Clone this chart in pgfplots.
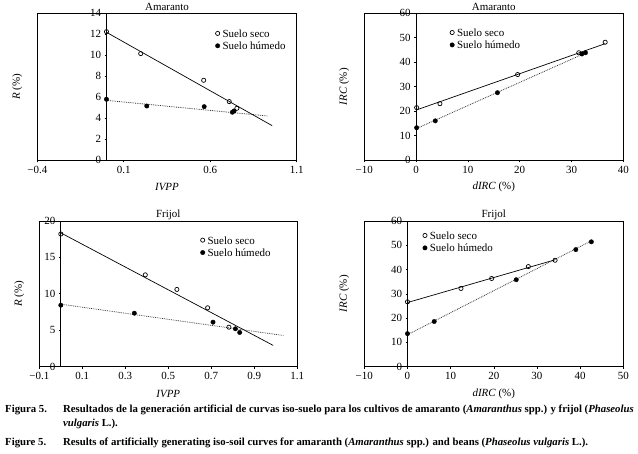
\documentclass[border=0pt]{standalone}
\usepackage{fontspec}
\setmainfont{Liberation Serif}
\usepackage{pgfplots}
\pgfplotsset{compat=1.18}
\pgfplotsset{
  mainax/.style={
    scale only axis, anchor=south west,
    axis line style={line width=0.8bp},
    tick align=outside, major tick length=2bp,
    tick style={black, line width=0.6bp},
    xtick pos=bottom, ytick=\empty,
    ymin=0, clip=false,
    font=\fontsize{11}{13}\selectfont,
    every axis title/.style={at={(0.5,1)}, anchor=base, yshift=3bp, font=\fontsize{11}{13}\selectfont},
    every axis x label/.style={at={(rel axis cs:0.5,0)}, anchor=center, yshift=-27bp, font=\fontsize{11}{13}\selectfont},
    every axis y label/.style={at={(rel axis cs:0,0.5)}, xshift=-20bp, rotate=90, anchor=center, font=\fontsize{11}{13}\selectfont},
    legend style={draw=none, fill=none, anchor=north west, font=\fontsize{11}{13}\selectfont,
      row sep=3.4bp, column sep=2.7bp, inner sep=0pt,
      nodes={inner sep=0pt, text height=7bp, text depth=2bp}},
    legend cell align=left,
  },
  yax/.style={
    scale only axis, anchor=south west,
    axis x line=none, axis y line*=left,
    axis line style={line width=0.8bp},
    tick align=outside, major tick length=2bp,
    tick style={black, line width=0.6bp},
    xmin=0, xmax=1, ymin=0,
    font=\fontsize{11}{13}\selectfont,
    yticklabel style={/pgf/number format/assume math mode=true},
  },
  seco/.style={only marks, mark=o, mark size=2.1bp, mark options={line width=0.7bp, fill=white, draw=black},
    legend image code/.code={\draw[mark repeat=2,mark phase=2,##1] plot coordinates {(0bp,1.5bp) (3bp,1.5bp) (6bp,1.5bp)};}},
  humedo/.style={only marks, mark=*, mark size=2.2bp, mark options={fill=black, draw=black},
    legend image code/.code={\draw[mark repeat=2,mark phase=2,##1] plot coordinates {(0bp,1.5bp) (3bp,1.5bp) (6bp,1.5bp)};}},
  fitseco/.style={no marks, black, line width=0.7bp, forget plot},
  fithum/.style={no marks, black!80, line width=0.8bp, densely dotted, forget plot},
}
\begin{document}
\begin{tikzpicture}
\useasboundingbox (0,0) rectangle (638bp,454bp);
% ---------------- Panel 1: Amaranto R vs IVPP
\begin{axis}[mainax, at={(37.3bp,293.7bp)}, width=259.4bp, height=147bp,
  xmin=-0.4, xmax=1.1, ymax=14,
  xtick={-0.4,0.1,0.6,1.1}, xticklabels={−0.4,0.1,0.6,1.1},
  title={Amaranto}, xlabel={\textit{IVPP}}, ylabel={\textit{R} (\%)},
  legend style={at={(axis description cs:0.686,0.885)}}]
\addplot[fitseco] coordinates {(0,12.19) (0.958,3.3)};
\addplot[fithum] coordinates {(0,5.71) (0.932,4.22)};
\addplot[seco] coordinates {(0.0,12.25) (0.198,10.16) (0.562,7.62) (0.710,5.59) (0.754,4.95)};
\addplot[humedo] coordinates {(0.0,5.81) (0.233,5.17) (0.565,5.11) (0.728,4.58) (0.738,4.70)};
\legend{Suelo seco, Suelo húmedo}
\draw[line width=0.8bp] (rel axis cs:0,0) rectangle (rel axis cs:1,1);
\end{axis}
\begin{axis}[yax, at={(106.5bp,293.7bp)}, width=190.2bp, height=147bp, ymax=14, ytick={0,2,...,14}]
\end{axis}
% ---------------- Panel 2: Amaranto IRC vs dIRC
\begin{axis}[mainax, at={(364.3bp,293.7bp)}, width=259bp, height=147bp,
  xmin=-10, xmax=40, ymax=60,
  xtick={-10,0,...,40}, xticklabels={−10,0,10,20,30,40},
  title={Amaranto}, xlabel={\textit{dIRC} (\%)}, ylabel={\textit{IRC} (\%)},
  legend style={at={(axis description cs:0.330,0.891)}}]
\addplot[fitseco] coordinates {(0,20.5) (36.5,47.6)};
\addplot[fithum] coordinates {(0,12.9) (32.7,43.8)};
\addplot[seco] coordinates {(0.1,21.5) (4.6,23.1) (19.6,35.0) (31.4,43.9) (36.5,48.2)};
\addplot[humedo] coordinates {(0.1,13.3) (3.7,16.1) (15.7,27.6) (32.0,43.4) (32.7,43.9)};
\legend{Suelo seco, Suelo húmedo}
\draw[line width=0.8bp] (rel axis cs:0,0) rectangle (rel axis cs:1,1);
\end{axis}
\begin{axis}[yax, at={(416.1bp,293.7bp)}, width=207.2bp, height=147bp, ymax=60, ytick={0,10,...,60}]
\end{axis}
% ---------------- Panel 3: Frijol R vs IVPP
\begin{axis}[mainax, at={(39.3bp,87.3bp)}, width=258bp, height=145.8bp,
  xmin=-0.1, xmax=1.1, ymax=20,
  xtick={-0.1,0.1,0.3,0.5,0.7,0.9,1.1}, xticklabels={−0.1,0.1,0.3,0.5,0.7,0.9,1.1},
  title={Frijol}, xlabel={\textit{IVPP}}, ylabel={\textit{R} (\%)},
  legend style={at={(axis description cs:0.624,0.890)}}]
\addplot[fitseco] coordinates {(0,18.36) (0.988,2.92)};
\addplot[fithum] coordinates {(0,8.58) (1.035,4.29)};
\addplot[seco] coordinates {(0,18.2) (0.393,12.6) (0.540,10.6) (0.683,8.08) (0.782,5.42)};
\addplot[humedo] coordinates {(0,8.44) (0.342,7.34) (0.708,6.11) (0.812,5.2) (0.832,4.7)};
\legend{Suelo seco, Suelo húmedo}
\draw[line width=0.8bp] (rel axis cs:0,0) rectangle (rel axis cs:1,1);
\end{axis}
\begin{axis}[yax, at={(60.8bp,87.3bp)}, width=236.5bp, height=145.8bp, ymax=20, ytick={0,5,...,20}]
\end{axis}
% ---------------- Panel 4: Frijol IRC vs dIRC
\begin{axis}[mainax, at={(364.3bp,87.3bp)}, width=259bp, height=145.8bp,
  xmin=-10, xmax=50, ymax=60,
  xtick={-10,0,...,50}, xticklabels={−10,0,10,20,30,40,50},
  title={Frijol}, xlabel={\textit{dIRC} (\%)}, ylabel={\textit{IRC} (\%)},
  legend style={at={(axis description cs:0.225,0.922)}}]
\addplot[fitseco] coordinates {(0,26.4) (34.2,44.0)};
\addplot[fithum] coordinates {(0,13.15) (42.6,51.8)};
\addplot[seco] coordinates {(0,26.7) (12.4,32.2) (19.5,36.3) (28.0,41.2) (34.2,43.8)};
\addplot[humedo] coordinates {(0,13.6) (6.2,18.6) (25.2,35.8) (39.0,48.2) (42.6,51.4)};
\legend{Suelo seco, Suelo húmedo}
\draw[line width=0.8bp] (rel axis cs:0,0) rectangle (rel axis cs:1,1);
\end{axis}
\begin{axis}[yax, at={(407.5bp,87.3bp)}, width=215.8bp, height=145.8bp, ymax=60, ytick={0,10,...,60}]
\end{axis}
% ---------------- Caption
\begin{scope}[every node/.style={inner sep=0pt, anchor=base west, font=\fontsize{10.8}{12}\selectfont\bfseries}]
\node at (5bp,41bp) {Figura 5.};
\node at (63bp,41bp) {Resultados de la generación artificial de curvas iso-suelo para los cultivos de amaranto (\textit{Amaranthus} spp.) y frijol (\textit{Phaseolus}};
\node at (63bp,27.5bp) {\textit{vulgaris} L.).};
\node at (5bp,9bp) {Figure 5.};
\node at (63bp,9bp) {Results of artificially generating iso-soil curves for amaranth (\textit{Amaranthus} spp.) and beans (\textit{Phaseolus vulgaris} L.).};
\end{scope}
\end{tikzpicture}
\end{document}
